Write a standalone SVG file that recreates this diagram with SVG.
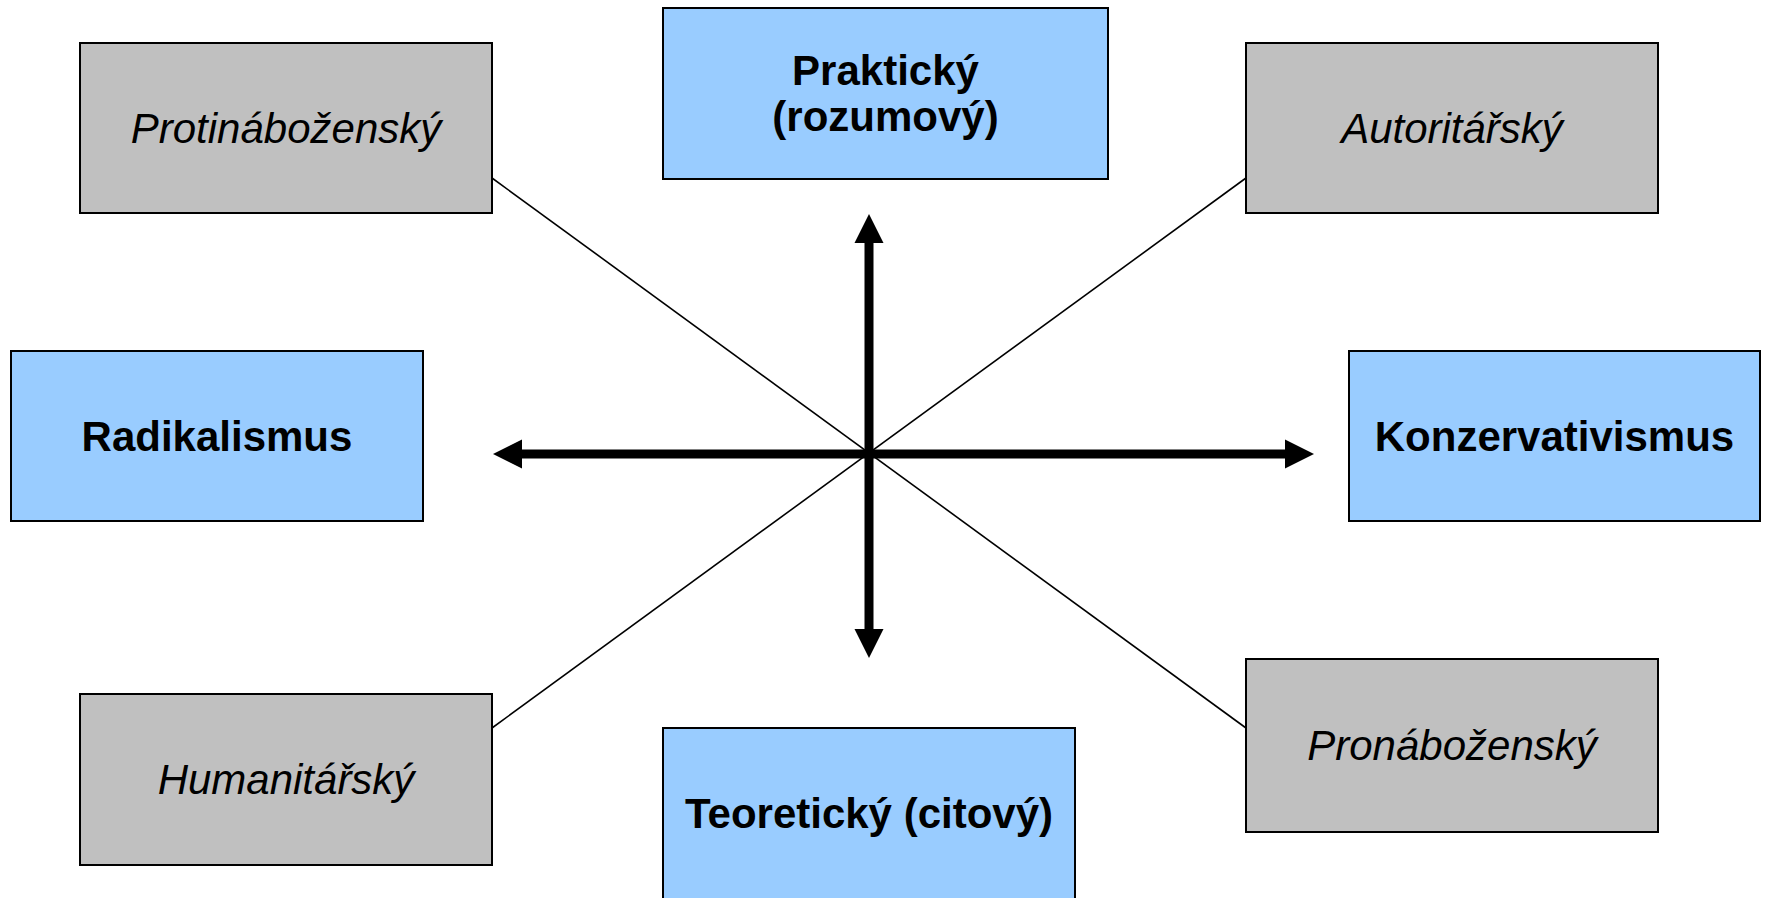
<svg xmlns="http://www.w3.org/2000/svg" width="1770" height="898" viewBox="0 0 1770 898">
<style>
.blue{fill:#99CCFF;stroke:#000;stroke-width:2}
.gray{fill:#C0C0C0;stroke:#000;stroke-width:2}
.bt{font-family:"Liberation Sans",Arial,sans-serif;font-weight:bold;font-size:42px;fill:#000;text-anchor:middle}
.it{font-family:"Liberation Sans",Arial,sans-serif;font-style:italic;font-size:42px;fill:#000;text-anchor:middle}
.thin{stroke:#000;stroke-width:1.6;fill:none}
.thick{stroke:#000;stroke-width:9;fill:none;marker-start:url(#ah);marker-end:url(#ah)}
</style>
<defs>
<marker id="ah" markerUnits="userSpaceOnUse" markerWidth="30" markerHeight="30" refX="0" refY="14.5" orient="auto-start-reverse" overflow="visible">
<path d="M0,0 L29,14.5 L0,29 z" fill="#000"/>
</marker>
</defs>
<rect width="1770" height="898" fill="#fff"/>
<g id="connectors">
<line class="thin" x1="492" y1="178" x2="1246" y2="728"/>
<line class="thin" x1="1246" y1="178" x2="492" y2="728"/>
<line class="thick" x1="522" y1="454" x2="1285" y2="454"/>
<line class="thick" x1="869" y1="243" x2="869" y2="629"/>
</g>
<g id="protinabozensky">
<rect class="gray" x="80" y="43" width="412" height="170"/>
<text class="it" x="286" y="143">Protináboženský</text>
</g>
<g id="prakticky">
<rect class="blue" x="663" y="8" width="445" height="171"/>
<text class="bt" x="885.5" y="85">Praktický</text>
<text class="bt" x="885.5" y="131">(rozumový)</text>
</g>
<g id="autoritarsky">
<rect class="gray" x="1246" y="43" width="412" height="170"/>
<text class="it" x="1452" y="143">Autoritářský</text>
</g>
<g id="radikalismus">
<rect class="blue" x="11" y="351" width="412" height="170"/>
<text class="bt" x="217" y="451">Radikalismus</text>
</g>
<g id="konzervativismus">
<rect class="blue" x="1349" y="351" width="411" height="170"/>
<text class="bt" x="1554.5" y="451">Konzervativismus</text>
</g>
<g id="humanitarsky">
<rect class="gray" x="80" y="694" width="412" height="171"/>
<text class="it" x="286" y="794">Humanitářský</text>
</g>
<g id="teoreticky">
<rect class="blue" x="663" y="728" width="412" height="172"/>
<text class="bt" x="869" y="828">Teoretický (citový)</text>
</g>
<g id="pronabozensky">
<rect class="gray" x="1246" y="659" width="412" height="173"/>
<text class="it" x="1452" y="760">Pronáboženský</text>
</g>
</svg>
